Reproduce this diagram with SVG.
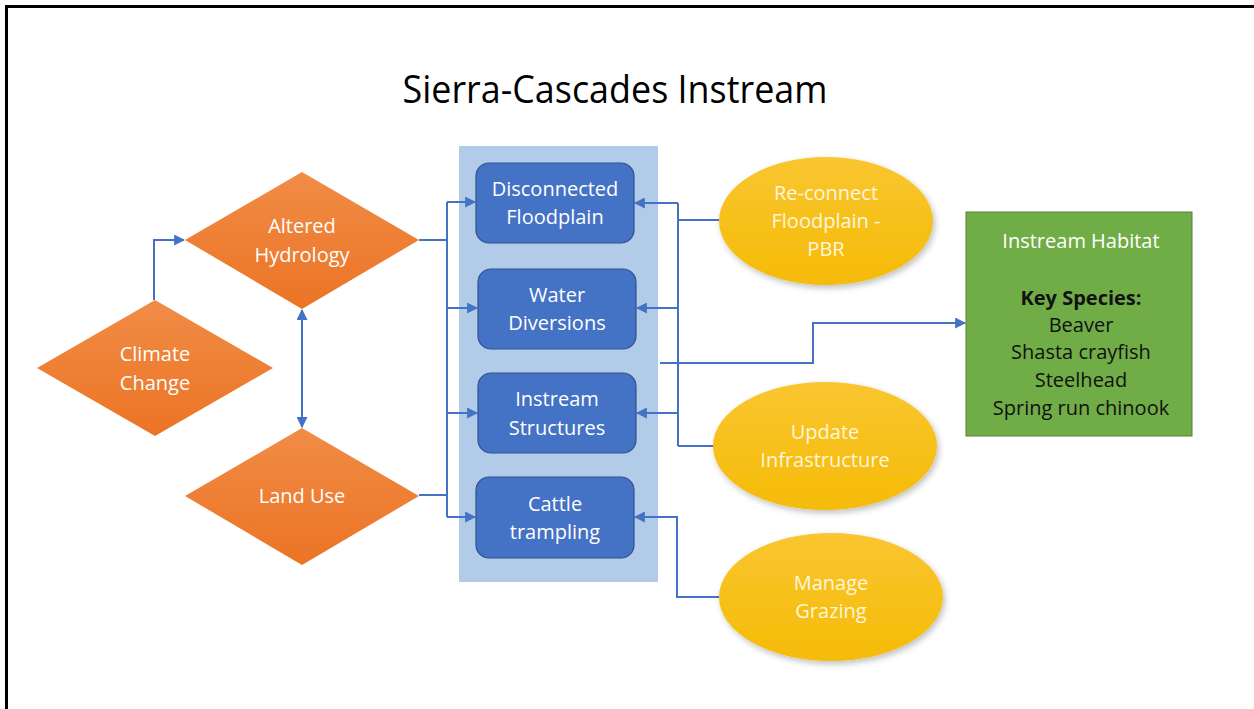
<svg xmlns="http://www.w3.org/2000/svg" width="1254" height="709" viewBox="0 0 1254 709">
<style>
.t{font-family:"Open Sans","Liberation Sans",sans-serif;font-size:20px;text-anchor:middle;fill:#fff}
.ty{font-family:"Open Sans","Liberation Sans",sans-serif;font-size:20px;text-anchor:middle;fill:#fff6dc}
.tk{font-family:"Open Sans","Liberation Sans",sans-serif;font-size:20px;text-anchor:middle;fill:#111}
.dia{fill:url(#og)}
.box{fill:#4472c4;stroke:#2f528f;stroke-width:1.2}
.ell{fill:url(#yg);filter:url(#sh)}
.c{fill:none;stroke:#4472c4;stroke-width:2}
</style>
<defs>
<linearGradient id="og" x1="0" y1="0" x2="0" y2="1">
<stop offset="0" stop-color="#f08c47"/><stop offset="1" stop-color="#ec7424"/>
</linearGradient>
<linearGradient id="yg" x1="0" y1="0" x2="0" y2="1">
<stop offset="0" stop-color="#f9c631"/><stop offset="1" stop-color="#f5bb06"/>
</linearGradient>
<filter id="sh" x="-10%" y="-10%" width="130%" height="130%">
<feGaussianBlur in="SourceAlpha" stdDeviation="3"/>
<feOffset dx="2" dy="3"/>
<feComponentTransfer><feFuncA type="linear" slope="0.25"/></feComponentTransfer>
<feMerge><feMergeNode/><feMergeNode in="SourceGraphic"/></feMerge>
</filter>
<marker id="ar" viewBox="0 0 10 10" refX="9" refY="5" markerWidth="5.5" markerHeight="5.5" orient="auto-start-reverse" markerUnits="strokeWidth">
<path d="M0,0 L10,5 L0,10 z" fill="#4472c4"/>
</marker>
</defs>
<rect width="1254" height="709" fill="#fff"/>
<path d="M6.5,709 V6.5 H1254" fill="none" stroke="#000" stroke-width="3"/>
<text x="615" y="103" font-family="'Open Sans','Liberation Sans',sans-serif" font-size="39" fill="#000" text-anchor="middle" textLength="425" lengthAdjust="spacingAndGlyphs">Sierra-Cascades Instream</text>

<rect id="panel" x="459" y="146" width="199" height="436" fill="#b1cbe9"/>

<g id="connectors">
<path class="c" d="M154,300 V240 H184" marker-end="url(#ar)"/>
<path class="c" d="M302,310 V427" marker-start="url(#ar)" marker-end="url(#ar)"/>
<path class="c" d="M419,240 H447"/>
<path class="c" d="M419,495 H447"/>
<path class="c" d="M447,202 V517"/>
<path class="c" d="M447,202 H475" marker-end="url(#ar)"/>
<path class="c" d="M447,308 H477" marker-end="url(#ar)"/>
<path class="c" d="M447,413 H477" marker-end="url(#ar)"/>
<path class="c" d="M447,517 H475" marker-end="url(#ar)"/>
<path class="c" d="M678,203 V446"/>
<path class="c" d="M719,220 H678"/>
<path class="c" d="M714,446 H678"/>
<path class="c" d="M678,203 H635" marker-end="url(#ar)"/>
<path class="c" d="M678,308 H637" marker-end="url(#ar)"/>
<path class="c" d="M678,413 H637" marker-end="url(#ar)"/>
<path class="c" d="M719,597 H677 V517 H635" marker-end="url(#ar)"/>
<path class="c" d="M660,363 H813 V323 H965" marker-end="url(#ar)"/>
</g>

<g id="altered-hydrology">
<polygon class="dia" points="302,172 419,240 302,309 185,240"/>
<text class="t" x="302" y="233">Altered</text>
<text class="t" x="302" y="262">Hydrology</text>
</g>
<g id="climate-change">
<polygon class="dia" points="155,300 273,368 155,436 37,368"/>
<text class="t" x="155" y="361">Climate</text>
<text class="t" x="155" y="390">Change</text>
</g>
<g id="land-use">
<polygon class="dia" points="302,428 419,496 302,565 185,496"/>
<text class="t" x="302" y="503">Land Use</text>
</g>

<g id="disconnected-floodplain">
<rect class="box" x="476" y="163" width="158" height="80" rx="13"/>
<text class="t" x="555" y="196">Disconnected</text>
<text class="t" x="555" y="224">Floodplain</text>
</g>
<g id="water-diversions">
<rect class="box" x="478" y="269" width="158" height="80" rx="13"/>
<text class="t" x="557" y="302">Water</text>
<text class="t" x="557" y="330">Diversions</text>
</g>
<g id="instream-structures">
<rect class="box" x="478" y="373" width="158" height="80" rx="13"/>
<text class="t" x="557" y="406">Instream</text>
<text class="t" x="557" y="435">Structures</text>
</g>
<g id="cattle-trampling">
<rect class="box" x="476" y="477" width="158" height="81" rx="13"/>
<text class="t" x="555" y="511">Cattle</text>
<text class="t" x="555" y="539">trampling</text>
</g>

<g id="reconnect-floodplain">
<ellipse class="ell" cx="826" cy="221" rx="107" ry="64"/>
<text class="ty" x="826" y="200">Re-connect</text>
<text class="ty" x="826" y="228">Floodplain -</text>
<text class="ty" x="826" y="256">PBR</text>
</g>
<g id="update-infrastructure">
<ellipse class="ell" cx="825" cy="446" rx="112" ry="64"/>
<text class="ty" x="825" y="439">Update</text>
<text class="ty" x="825" y="467">Infrastructure</text>
</g>
<g id="manage-grazing">
<ellipse class="ell" cx="831" cy="597" rx="112" ry="64"/>
<text class="ty" x="831" y="590">Manage</text>
<text class="ty" x="831" y="618">Grazing</text>
</g>

<g id="instream-habitat">
<rect x="966" y="212" width="226" height="224" fill="#70ad47" stroke="#548235" stroke-width="1"/>
<text class="t" x="1081" y="248">Instream Habitat</text>
<text class="tk" x="1081" y="305" font-weight="bold">Key Species:</text>
<text class="tk" x="1081" y="332">Beaver</text>
<text class="tk" x="1081" y="359">Shasta crayfish</text>
<text class="tk" x="1081" y="387">Steelhead</text>
<text class="tk" x="1081" y="415">Spring run chinook</text>
</g>
</svg>
